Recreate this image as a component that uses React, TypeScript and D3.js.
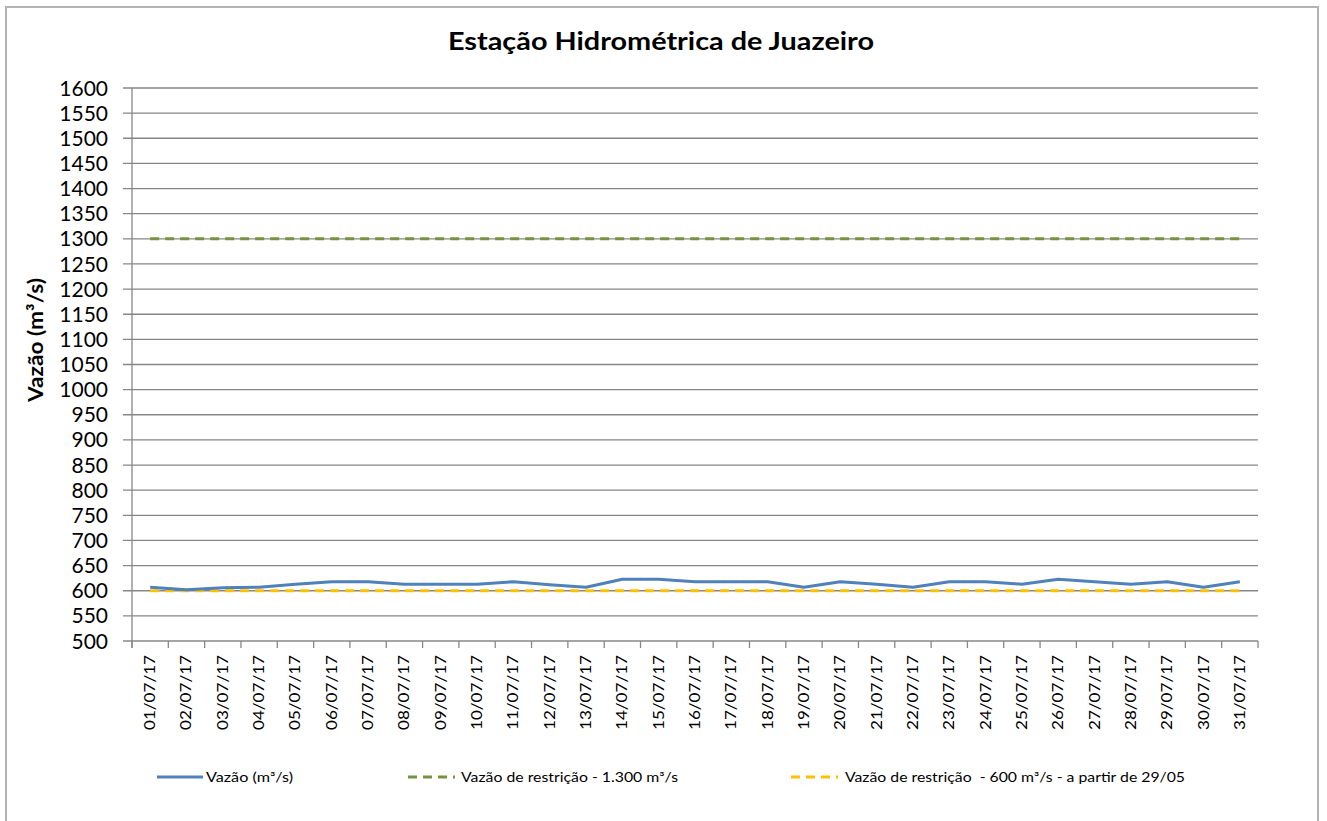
import React from "react";
import * as d3 from "d3";

const dates = [
  "01/07/17","02/07/17","03/07/17","04/07/17","05/07/17","06/07/17","07/07/17","08/07/17",
  "09/07/17","10/07/17","11/07/17","12/07/17","13/07/17","14/07/17","15/07/17","16/07/17",
  "17/07/17","18/07/17","19/07/17","20/07/17","21/07/17","22/07/17","23/07/17","24/07/17",
  "25/07/17","26/07/17","27/07/17","28/07/17","29/07/17","30/07/17","31/07/17",
];
const vazao = [
  607, 602, 606, 607, 613, 618, 618, 613, 613, 613, 618, 612, 607, 623, 623, 618,
  618, 618, 607, 618, 613, 607, 618, 618, 613, 623, 618, 613, 618, 607, 618,
];
const restricao1300 = dates.map(() => 1300);
const restricao600 = dates.map(() => 600);
const yTicks = d3.range(500, 1601, 50);

const W = 1327;
const H = 821;
const M = { left: 132, right: 1258, top: 88, bottom: 641 };
const FONT = "Lato, 'Open Sans', sans-serif";

export default function App() {
  const x = d3.scaleBand<string>().domain(dates).range([M.left, M.right]).padding(0);
  const y = d3.scaleLinear().domain([500, 1600]).range([M.bottom, M.top]);
  const cx = (d: string) => (x(d) as number) + x.bandwidth() / 2;
  const line = d3
    .line<number>()
    .x((_, i) => cx(dates[i]))
    .y((v) => y(v));

  const boundaries = dates.map((d) => x(d) as number).concat([M.right]);

  return (
    <svg
      width={W}
      height={H}
      style={{ position: "absolute", left: 0, top: 0, background: "#fff" }}
    >
      <rect x={6} y={7} width={1312} height={830} fill="#fff" stroke="#b3b3b3" strokeWidth={2} />
      <text
        x={661}
        y={50}
        textAnchor="middle"
        fontFamily={FONT}
        fontWeight="bold"
        fontSize={24}
        textLength={426}
        lengthAdjust="spacingAndGlyphs"
        fill="#000"
      >
        Estação Hidrométrica de Juazeiro
      </text>

      {yTicks.map((t) => (
        <line key={"g" + t} x1={M.left - 9} x2={M.right} y1={y(t)} y2={y(t)} stroke="#878787" strokeWidth={1.3} />
      ))}
      <line x1={M.left} x2={M.left} y1={M.top} y2={M.bottom + 7} stroke="#878787" strokeWidth={1.3} />
      {yTicks.map((t) => (
        <text
          key={"yl" + t}
          x={108}
          y={y(t)}
          dy="0.36em"
          textAnchor="end"
          fontFamily={FONT}
          fontSize={21}
          fill="#000"
        >
          {t}
        </text>
      ))}
      {boundaries.map((b, i) => (
        <line key={"xt" + i} x1={b} x2={b} y1={M.bottom} y2={M.bottom + 7} stroke="#878787" strokeWidth={1.3} />
      ))}
      {dates.map((d) => (
        <text
          key={"xl" + d}
          transform={`translate(${cx(d) + 5},655) rotate(-90)`}
          textAnchor="end"
          fontFamily={FONT}
          fontSize={15}
          textLength={75}
          lengthAdjust="spacingAndGlyphs"
          fill="#000"
        >
          {d}
        </text>
      ))}
      <text
        transform="translate(43,340) rotate(-90)"
        textAnchor="middle"
        fontFamily={FONT}
        fontWeight="bold"
        fontSize={21}
        textLength={124}
        lengthAdjust="spacingAndGlyphs"
        fill="#000"
      >
        Vazão (m³/s)
      </text>

      <path d={line(restricao1300) || ""} fill="none" stroke="#77933C" strokeWidth={3} strokeDasharray="9,6" />
      <path d={line(restricao600) || ""} fill="none" stroke="#FFC000" strokeWidth={3} strokeDasharray="9,6" />
      <path d={line(vazao) || ""} fill="none" stroke="#4F81BD" strokeWidth={3} strokeLinejoin="round" />

      <line x1={157} x2={203} y1={777} y2={777} stroke="#4F81BD" strokeWidth={3} />
      <text x={206} y={782} fontFamily={FONT} fontSize={13} textLength={87} lengthAdjust="spacingAndGlyphs" fill="#000">
        Vazão (m³/s)
      </text>
      <line x1={408} x2={455} y1={777} y2={777} stroke="#77933C" strokeWidth={3} strokeDasharray="9,6" />
      <text x={461} y={782} fontFamily={FONT} fontSize={13} textLength={217} lengthAdjust="spacingAndGlyphs" fill="#000">
        Vazão de restrição - 1.300 m³/s
      </text>
      <line x1={791} x2={838} y1={777} y2={777} stroke="#FFC000" strokeWidth={3} strokeDasharray="9,6" />
      <text x={845} y={782} fontFamily={FONT} fontSize={13} textLength={340} lengthAdjust="spacingAndGlyphs" fill="#000" style={{ whiteSpace: "pre" }}>
        {"Vazão de restrição  - 600 m³/s - a partir de 29/05"}
      </text>
    </svg>
  );
}
